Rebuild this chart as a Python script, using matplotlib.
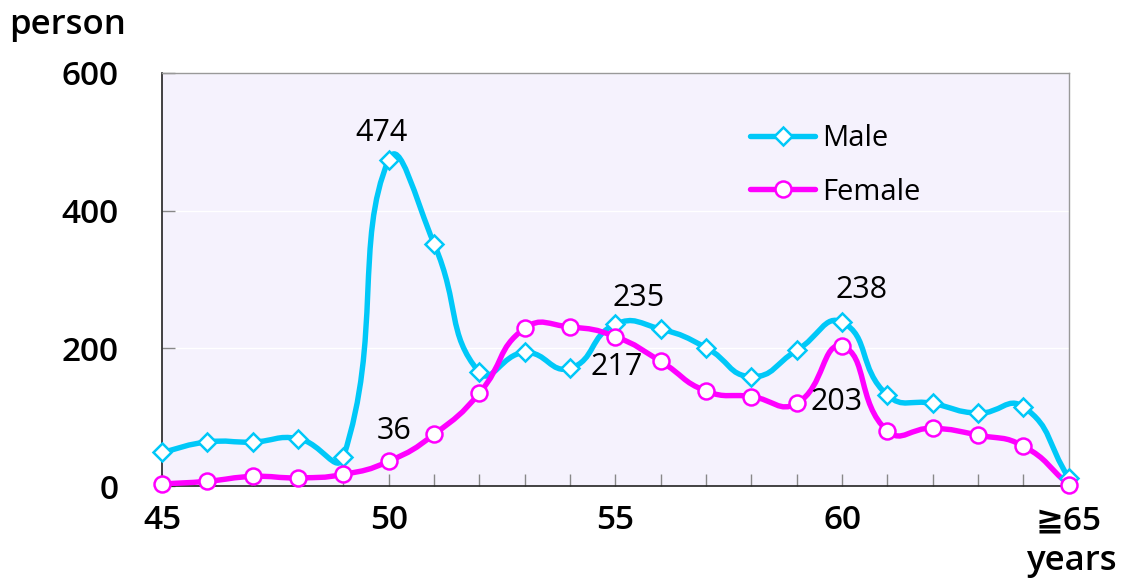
import matplotlib
matplotlib.use("Agg")
import matplotlib.pyplot as plt
from matplotlib.path import Path
from matplotlib.patches import PathPatch
from matplotlib.lines import Line2D
import numpy as np

plt.rcParams['font.family'] = ['Open Sans', 'DejaVu Sans']

ages = list(range(45, 66))
male = [49, 64, 64, 69, 42, 474, 352, 165, 194, 171, 235, 228, 201, 159, 197, 238,
        132, 120, 106, 115, 12]
female = [3, 7, 14, 12, 17, 36, 75, 135, 229, 231, 217, 181, 138, 130, 120, 203,
          80, 84, 74, 58, 2]
xtick_vals = [45, 50, 55, 60, 65]
xtick_labels = ['45', '50', '55', '60', '≧65']

cyan = '#00C8F8'
magenta = '#FF00FF'


def smooth_path(ax, xs, ys, t=0.5):
    # Excel-like smoothed line, control points scaled by segment length on screen
    tr = ax.transData
    p = tr.transform(np.column_stack([xs, ys]).astype(float))
    n = len(p)
    c_in = p.copy()
    c_out = p.copy()
    for i in range(n):
        prev = p[i - 1] if i > 0 else p[i]
        nxt = p[i + 1] if i + 1 < n else p[i]
        d0 = np.hypot(*(p[i] - prev))
        d1 = np.hypot(*(nxt - p[i]))
        if d0 + d1 == 0:
            continue
        c_in[i] = p[i] - t * d0 / (d0 + d1) * (nxt - prev)
        c_out[i] = p[i] + t * d1 / (d0 + d1) * (nxt - prev)
    verts = [p[0]]
    codes = [Path.MOVETO]
    for i in range(n - 1):
        verts += [c_out[i], c_in[i + 1], p[i + 1]]
        codes += [Path.CURVE4] * 3
    verts = tr.inverted().transform(np.array(verts))
    return Path(verts, codes)


fig = plt.figure(figsize=(11.25, 5.78), dpi=100)
ax = fig.add_axes([0.144, 0.159, 0.806, 0.715])
ax.set_facecolor('#F5F2FD')
ax.set_xlim(45, 65)
ax.set_ylim(0, 600)

for ys, col in [(male, cyan), (female, magenta)]:
    ax.add_patch(PathPatch(smooth_path(ax, ages, ys), fill=False, edgecolor=col,
                           lw=3.9, capstyle='round', joinstyle='round', zorder=3))

ax.plot(ages, male, ls='none', marker='D', ms=9, mfc='white', mec=cyan,
        mew=1.8, zorder=4, clip_on=False)
ax.plot(ages, female, ls='none', marker='o', ms=11.5, mfc='white', mec=magenta,
        mew=1.8, zorder=5, clip_on=False)

ax.set_yticks([0, 200, 400, 600])
ax.set_xticks(ages)
ax.set_xticklabels([xtick_labels[xtick_vals.index(a)] if a in xtick_vals else ''
                    for a in ages])
ax.tick_params(axis='both', direction='in', length=9, width=1, color='#888888',
               labelsize=24)
ax.tick_params(axis='x', pad=13)
ax.tick_params(axis='y', pad=31)
for lab in ax.get_xticklabels() + ax.get_yticklabels():
    lab.set_fontweight('semibold')

ax.grid(axis='y', color='white', lw=1)
ax.set_axisbelow(True)
for side in ['left', 'bottom']:
    ax.spines[side].set_color('#222222')
    ax.spines[side].set_linewidth(1.2)
for side in ['top', 'right']:
    ax.spines[side].set_color('#999999')
    ax.spines[side].set_linewidth(1)

fig.text(0.008, 0.957, 'person', fontsize=25, fontweight='semibold', va='center')
fig.text(0.993, 0.03, 'years', fontsize=25, fontweight='semibold', va='center',
         ha='right')

notes = [(50, 474, -5, 19), (50, 36, 4, 22), (55, 235, 17, 19),
         (55, 217, 1, -22), (60, 238, 14, 23), (60, 203, -4, -40)]
for x, v, dx, dy in notes:
    ax.annotate(str(v), (x, v), xytext=(dx, dy), textcoords='offset points',
                ha='center', va='center', fontsize=22, fontweight='medium',
                zorder=6)

handles = [
    Line2D([], [], color=cyan, lw=3.9, marker='D', ms=9, mfc='white',
           mec=cyan, mew=1.8, solid_capstyle='round'),
    Line2D([], [], color=magenta, lw=3.9, marker='o', ms=11.5, mfc='white',
           mec=magenta, mew=1.8, solid_capstyle='round'),
]
ax.legend(handles, ['Male', 'Female'], loc='upper left',
          bbox_to_anchor=(0.62, 0.94), frameon=False, fontsize=21,
          handlelength=2.2, labelspacing=0.85, handletextpad=0.25)

fig.savefig('out.png', dpi=100)
